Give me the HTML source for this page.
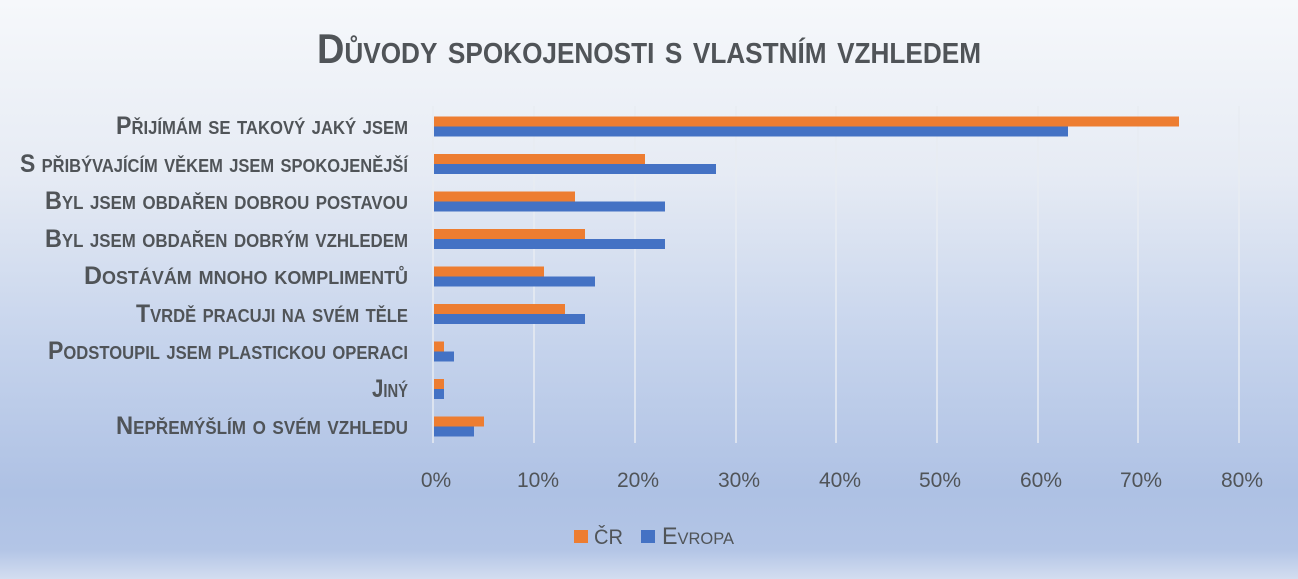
<!DOCTYPE html>
<html><head><meta charset="utf-8"><style>
html,body{margin:0;padding:0;width:1298px;height:579px;overflow:hidden}
body{background:linear-gradient(180deg,#f6f8fb 0%,#e6ebf4 30%,#c5d3ec 60%,#aec1e4 85%,#b3c5e6 95%,#d3ddf0 100%)}
svg{position:absolute;left:0;top:0}
text{font-family:"Liberation Sans Narrow","Liberation Sans",sans-serif;fill:#505458}
.l{font-weight:bold;font-variant:small-caps;font-size:25px}
</style></head><body>
<svg width="1298" height="579" xmlns="http://www.w3.org/2000/svg">
<text x="317" y="63" font-size="42" font-weight="bold" style="font-variant:small-caps" textLength="664" lengthAdjust="spacingAndGlyphs">Důvody spokojenosti s vlastním vzhledem</text>
<g stroke="#e8ecf2" stroke-width="1.5">
<line x1="534" y1="106" x2="534" y2="443"/><line x1="635" y1="106" x2="635" y2="443"/><line x1="736" y1="106" x2="736" y2="443"/><line x1="836" y1="106" x2="836" y2="443"/><line x1="937" y1="106" x2="937" y2="443"/><line x1="1038" y1="106" x2="1038" y2="443"/><line x1="1138" y1="106" x2="1138" y2="443"/><line x1="1239" y1="106" x2="1239" y2="443"/>
<line x1="433" y1="106" x2="433" y2="443"/>
</g>
<g>
<rect x="434" y="116.5" width="745" height="10" fill="#ed7d31"/><rect x="434" y="126.5" width="634" height="10" fill="#4472c4"/>
<rect x="434" y="154" width="211" height="10" fill="#ed7d31"/><rect x="434" y="164" width="282" height="10" fill="#4472c4"/>
<rect x="434" y="191.5" width="141" height="10" fill="#ed7d31"/><rect x="434" y="201.5" width="231" height="10" fill="#4472c4"/>
<rect x="434" y="229" width="151" height="10" fill="#ed7d31"/><rect x="434" y="239" width="231" height="10" fill="#4472c4"/>
<rect x="434" y="266.5" width="110" height="10" fill="#ed7d31"/><rect x="434" y="276.5" width="161" height="10" fill="#4472c4"/>
<rect x="434" y="304" width="131" height="10" fill="#ed7d31"/><rect x="434" y="314" width="151" height="10" fill="#4472c4"/>
<rect x="434" y="341.5" width="10" height="10" fill="#ed7d31"/><rect x="434" y="351.5" width="20" height="10" fill="#4472c4"/>
<rect x="434" y="379" width="10" height="10" fill="#ed7d31"/><rect x="434" y="389" width="10" height="10" fill="#4472c4"/>
<rect x="434" y="416.5" width="50" height="10" fill="#ed7d31"/><rect x="434" y="426.5" width="40" height="10" fill="#4472c4"/>
</g>
<g>
<text class="l" x="408" y="134" text-anchor="end" textLength="292" lengthAdjust="spacingAndGlyphs">Přijímám se takový jaký jsem</text>
<text class="l" x="408" y="172" text-anchor="end" textLength="388" lengthAdjust="spacingAndGlyphs">S přibývajícím věkem jsem spokojenější</text>
<text class="l" x="408" y="209" text-anchor="end" textLength="363" lengthAdjust="spacingAndGlyphs">Byl jsem obdařen dobrou postavou</text>
<text class="l" x="408" y="247" text-anchor="end" textLength="363" lengthAdjust="spacingAndGlyphs">Byl jsem obdařen dobrým vzhledem</text>
<text class="l" x="408" y="284" text-anchor="end" textLength="324" lengthAdjust="spacingAndGlyphs">Dostávám mnoho komplimentů</text>
<text class="l" x="408" y="322" text-anchor="end" textLength="272" lengthAdjust="spacingAndGlyphs">Tvrdě pracuji na svém těle</text>
<text class="l" x="408" y="359" text-anchor="end" textLength="360" lengthAdjust="spacingAndGlyphs">Podstoupil jsem plastickou operaci</text>
<text class="l" x="408" y="397" text-anchor="end" textLength="36" lengthAdjust="spacingAndGlyphs">Jiný</text>
<text class="l" x="408" y="434" text-anchor="end" textLength="292" lengthAdjust="spacingAndGlyphs">Nepřemýšlím o svém vzhledu</text>
</g>
<g font-size="21" text-anchor="middle">
<text x="436" y="487">0%</text><text x="538" y="487">10%</text><text x="638" y="487">20%</text><text x="739" y="487">30%</text><text x="840" y="487">40%</text><text x="940" y="487">50%</text><text x="1041" y="487">60%</text><text x="1141" y="487">70%</text><text x="1242" y="487">80%</text>
</g>
<rect x="574" y="530" width="14" height="13" fill="#ed7d31"/>
<text x="594" y="544" font-size="21" textLength="29" lengthAdjust="spacingAndGlyphs">ČR</text>
<rect x="641" y="530" width="14" height="13" fill="#4472c4"/>
<text x="662" y="544" font-size="24" style="font-variant:small-caps" textLength="72" lengthAdjust="spacingAndGlyphs">Evropa</text>
</svg>
</body></html>
